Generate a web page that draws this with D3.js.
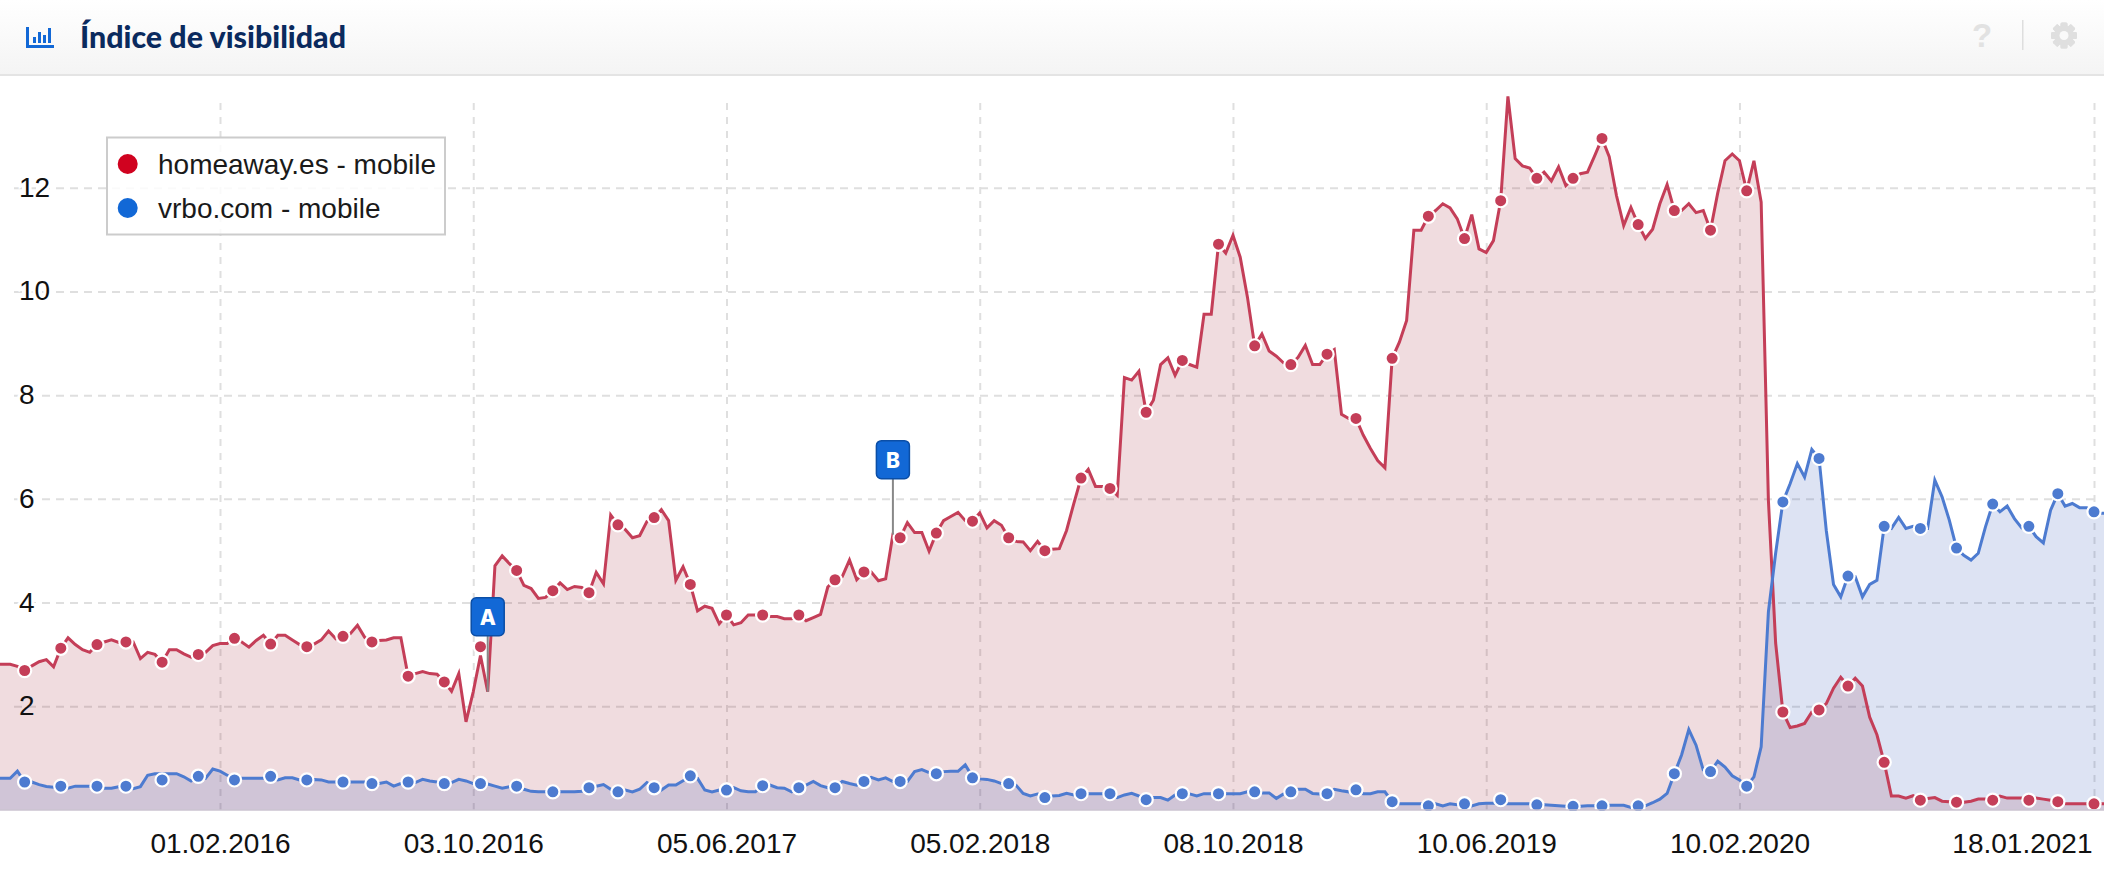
<!DOCTYPE html>
<html><head><meta charset="utf-8">
<script src="https://cdnjs.cloudflare.com/ajax/libs/d3/7.8.5/d3.min.js"></script>
<style>html,body{margin:0;padding:0;background:#fff;overflow:hidden}svg{display:block}</style>
</head><body><div id="c"></div>
<script>
const seriesNames = ["homeaway.es - mobile", "vrbo.com - mobile"];
const titleText = "Índice de visibilidad";
const firstWeek = "2015-06-29";
const xTickDates = ["2016-02-01","2016-10-03","2017-06-05","2018-02-05","2018-10-08","2019-06-10","2020-02-10","2021-01-18"];
const xTickLabels = ["01.02.2016","03.10.2016","05.06.2017","05.02.2018","08.10.2018","10.06.2019","10.02.2020","18.01.2021"];
const yTicks = [2,4,6,8,10,12];
const homeaway = [
2.81,2.81,2.81,2.77,2.69,2.78,2.86,2.90,2.76,3.12,
3.32,3.19,3.09,3.04,3.19,3.24,3.28,3.23,3.24,3.24,
2.92,3.04,3.0,2.85,3.09,3.09,3.01,2.95,3.0,3.04,
3.17,3.21,3.21,3.31,3.24,3.14,3.27,3.37,3.2,3.37,
3.37,3.28,3.19,3.15,3.2,3.28,3.45,3.3,3.35,3.4,
3.56,3.33,3.24,3.27,3.28,3.32,3.32,2.58,2.63,2.67,
2.63,2.62,2.47,2.29,2.63,1.70,2.28,2.98,2.28,4.71,
4.9,4.75,4.62,4.33,4.27,4.08,4.1,4.23,4.38,4.25,
4.31,4.29,4.19,4.58,4.36,5.69,5.5,5.41,5.25,5.29,
5.56,5.64,5.79,5.58,4.43,4.69,4.35,3.84,3.93,3.89,
3.59,3.76,3.57,3.61,3.76,3.76,3.76,3.73,3.73,3.69,
3.69,3.76,3.65,3.71,3.77,4.3,4.44,4.5,4.82,4.44,
4.59,4.59,4.42,4.46,5.31,5.25,5.54,5.35,5.35,4.99,
5.34,5.58,5.66,5.74,5.58,5.57,5.73,5.44,5.58,5.49,
5.25,5.18,5.17,5.0,5.18,5.0,5.03,5.04,5.39,5.91,
6.40,6.57,6.24,6.24,6.2,6.07,8.34,8.29,8.46,7.67,
7.9,8.59,8.72,8.38,8.67,8.59,8.54,9.56,9.56,10.91,
10.74,11.08,10.66,9.89,8.95,9.18,8.85,8.75,8.62,8.59,
8.73,8.96,8.59,8.59,8.79,8.88,7.63,7.55,7.55,7.23,
6.97,6.74,6.6,8.71,9.02,9.44,11.18,11.18,11.45,11.56,
11.69,11.61,11.4,11.02,11.48,10.82,10.75,10.98,11.75,13.76,
12.56,12.42,12.38,12.18,12.3,12.13,12.4,12.04,12.18,12.27,
12.3,12.62,12.95,12.6,11.85,11.27,11.62,11.29,11.02,11.2,
11.69,12.06,11.56,11.56,11.69,11.52,11.56,11.18,11.9,12.52,
12.65,12.52,11.94,12.52,11.72,5.97,3.22,1.89,1.59,1.62,
1.67,1.89,1.93,2.05,2.35,2.56,2.39,2.54,2.39,1.79,
1.45,.92,.27,.27,.23,.275,.19,.22,.24,.17,
.16,.15,.15,.17,.21,.21,.19,.27,.23,.23,
.23,.19,.23,.21,.19,.16,.12,.12,.12,.12,
.12,.12,.12];
const vrbo = [
.61,.61,.61,.75,.54,.54,.49,.455,.44,.46,
.42,.46,.46,.46,.46,.42,.42,.45,.46,.41,
.45,.67,.70,.70,.70,.70,.64,.56,.64,.61,
.79,.75,.67,.61,.61,.61,.61,.61,.61,.58,
.62,.62,.58,.58,.59,.58,.54,.54,.54,.54,
.54,.54,.54,.51,.54,.46,.51,.54,.53,.59,
.56,.54,.53,.53,.59,.56,.51,.51,.5,.46,
.42,.45,.45,.40,.36,.35,.35,.35,.35,.35,
.35,.36,.45,.46,.49,.40,.37,.385,.35,.4,
.53,.45,.385,.48,.48,.565,.64,.61,.385,.35,
.385,.385,.43,.37,.35,.35,.48,.48,.43,.42,
.35,.44,.48,.55,.47,.43,.43,.55,.51,.48,
.56,.63,.58,.62,.55,.55,.55,.74,.78,.72,
.70,.74,.745,.745,.87,.64,.60,.59,.56,.51,
.51,.48,.32,.27,.31,.28,.27,.28,.32,.29,
.315,.315,.315,.315,.315,.24,.29,.32,.27,.24,
.24,.24,.19,.29,.315,.31,.27,.315,.315,.315,
.315,.315,.315,.35,.35,.33,.33,.225,.31,.35,
.40,.40,.32,.31,.315,.40,.37,.35,.39,.315,
.315,.35,.35,.16,.12,.12,.12,.12,.11,.12,
.08,.12,.1,.12,.08,.12,.13,.13,.13,.12,
.12,.12,.12,.11,.1,.09,.08,.07,.07,.07,
.08,.08,.08,.09,.09,.09,.05,.08,.08,.14,
.21,.32,.70,1.06,1.55,1.25,.77,.74,.94,.83,
.66,.58,.46,.64,1.22,3.82,4.95,5.94,6.29,6.68,
6.42,6.95,6.78,5.39,4.35,4.11,4.51,4.5,4.11,4.35,
4.43,5.47,5.43,5.64,5.43,5.47,5.43,5.43,6.36,6.04,
5.59,5.05,4.91,4.82,4.95,5.46,5.9,5.75,5.86,5.62,
5.44,5.47,5.27,5.15,5.78,6.1,5.86,5.91,5.83,5.83,
5.75,5.72,5.72];
const markerWeeks = [4,9,14,18,23,28,33,38,43,48,52,57,62,67,72,77,82,86,91,96,101,106,111,116,120,125,130,135,140,145,150,154,159,164,169,174,179,184,188,193,198,203,208,213,218,222,227,232,237,242,247,252,256,261,266,271,276,281,285,290];
const homeawayMarkers = [2.69,3.12,3.19,3.24,2.85,3.0,3.31,3.2,3.15,3.35,3.24,2.58,2.47,3.15,4.62,4.23,4.19,5.5,5.64,4.35,3.76,3.76,3.76,4.44,4.59,5.25,5.34,5.57,5.25,5.0,6.40,6.2,7.67,8.67,10.91,8.95,8.59,8.79,7.55,8.71,11.45,11.02,11.75,12.18,12.18,12.95,11.29,11.56,11.18,11.94,1.89,1.93,2.39,.92,.19,.15,.19,.19,.16,.12];
const vrboMarkers = [.54,.46,.46,.46,.58,.65,.58,.65,.58,.54,.51,.54,.51,.51,.46,.35,.43,.35,.43,.66,.385,.47,.43,.43,.55,.55,.70,.62,.51,.24,.315,.315,.2,.315,.315,.35,.35,.315,.39,.16,.08,.12,.2,.1,.07,.08,.08,.70,.74,.46,5.94,6.78,4.51,5.47,5.43,5.05,5.9,5.47,6.1,5.75];
const flagLabels = ["A","B"];
const flagWeeks = [68,124];

const W = 2104, H = 876, FONT = "'Liberation Sans', Arial, sans-serif";
const NAVY = "#0a2a5e", BLUE = "#1268d6";
const parseD = d3.utcParse("%Y-%m-%d");
const t0 = parseD(firstWeek);
const weekDate = i => d3.utcWeek.offset(t0, i);
const x = d3.scaleUtc().domain([parseD("2016-02-01"), parseD("2021-01-18")]).range([220, 2094]);
const y = d3.scaleLinear().domain([0, 12]).range([810, 187.7]);
const px = i => x(weekDate(i));

const svg = d3.select("#c").append("svg").attr("width", W).attr("height", H).attr("viewBox", `0 0 ${W} ${H}`);
const defs = svg.append("defs");
const g = defs.append("linearGradient").attr("id","hdr").attr("x1",0).attr("x2",0).attr("y1",0).attr("y2",1);
g.append("stop").attr("offset",0).attr("stop-color","#ffffff");
g.append("stop").attr("offset",1).attr("stop-color","#f4f4f4");
defs.append("clipPath").attr("id","plot").append("rect").attr("x",0).attr("y",76).attr("width",W).attr("height",735);

// horizontal grid
const yGrid = svg.append("g").attr("transform","translate(2094,0)")
  .call(d3.axisLeft(y).tickValues(yTicks).tickSize(2084).tickFormat(""));
yGrid.select(".domain").remove();
// vertical grid
const xGrid = svg.append("g").attr("transform","translate(0,810)")
  .call(d3.axisBottom(x).tickValues(xTickDates.map(parseD)).tickSize(-714).tickFormat(""));
xGrid.select(".domain").remove();
svg.selectAll("g line").attr("stroke","#dfdfdf").attr("stroke-width",2);
yGrid.selectAll("line").attr("stroke-dasharray","8 6");
xGrid.selectAll("line").attr("stroke-dasharray","7 7");

const plot = svg.append("g").attr("clip-path","url(#plot)");
const series = [
 {vals:homeaway, marks:homeawayMarkers, line:"#c43e58", fill:"rgb(155,22,42)"},
 {vals:vrbo, marks:vrboMarkers, line:"#4d7bd0", fill:"rgb(28,68,175)"}
];
const area = d3.area().x((d,i)=>px(i)).y0(y(0)).y1(d=>y(d));
const line = d3.line().x((d,i)=>px(i)).y(d=>y(d));
series.forEach(s=>plot.append("path").attr("d",area(s.vals)).attr("fill",s.fill).attr("fill-opacity",0.15));
series.forEach(s=>plot.append("path").attr("d",line(s.vals)).attr("fill","none").attr("stroke",s.line).attr("stroke-width",3).attr("stroke-linejoin","miter"));
series.forEach(s=>{
  plot.append("g").selectAll("circle").data(s.marks).join("circle")
    .attr("cx",(d,i)=>px(markerWeeks[i])).attr("cy",d=>y(d)).attr("r",6.6)
    .attr("fill",s.line).attr("stroke","#fff").attr("stroke-width",2.2);
});
// baseline
svg.append("line").attr("x1",0).attr("x2",W).attr("y1",y(0)).attr("y2",y(0)).attr("stroke","#cbc3d1").attr("stroke-width",1.5);

// axis labels
const yLab = svg.append("g").attr("transform","translate(19,0)")
  .call(d3.axisRight(y).tickValues(yTicks).tickSize(0).tickPadding(0).tickFormat(d3.format("d")));
yLab.select(".domain").remove();
yLab.selectAll("text").attr("font-family",FONT).attr("font-size",28).attr("fill","#111").attr("text-anchor","start")
  .attr("x",0).attr("dy",null).attr("y",8.5)
  .attr("stroke",d=>d>=4?"#fff":"none").attr("stroke-width",6).attr("paint-order","stroke");
const xLab = svg.append("g").attr("transform","translate(0,810)")
  .call(d3.axisBottom(x).tickValues(xTickDates.map(parseD)).tickSize(0).tickPadding(0)
    .tickFormat((d,i)=>xTickLabels[i]));
xLab.select(".domain").remove();
xLab.selectAll("text").attr("font-family",FONT).attr("font-size",28).attr("fill","#111").attr("dy",null).attr("y",43);
xLab.selectAll("text").filter((d,i)=>i===xTickLabels.length-1).attr("text-anchor","end").attr("dx",-2);

// flags
const flags = svg.append("g").selectAll("g").data(flagLabels).join("g")
  .attr("transform",(d,i)=>`translate(${px(flagWeeks[i])},${y(homeaway[flagWeeks[i]])})`);
flags.append("line").attr("y1",0).attr("y2",-57).attr("stroke","#888").attr("stroke-width",2);
flags.append("rect").attr("x",-16.5).attr("y",-94).attr("width",33).attr("height",38).attr("rx",5)
  .attr("fill",BLUE).attr("stroke","#0b4ea6").attr("stroke-width",1.5);
flags.append("text").attr("y",-67).attr("text-anchor","middle").attr("fill","#fff")
  .attr("font-family","Inter, 'Liberation Sans', sans-serif").attr("font-weight",800).attr("font-size",21).text(d=>d);

// legend
const leg = svg.append("g");
leg.append("rect").attr("x",107).attr("y",137.5).attr("width",338).attr("height",97)
  .attr("fill","#fff").attr("fill-opacity",.85).attr("stroke","#cccccc").attr("stroke-width",2);
["#d0021f",BLUE].forEach((c,i)=>{
  leg.append("circle").attr("cx",127.7).attr("cy",164+44*i).attr("r",10).attr("fill",c);
  leg.append("text").attr("x",158).attr("y",174+44*i).attr("font-family",FONT).attr("font-size",28).attr("fill","#1a1a1a").text(seriesNames[i]);
});

// header
const hdr = svg.append("g");
hdr.append("rect").attr("width",W).attr("height",75).attr("fill","url(#hdr)");
hdr.append("rect").attr("y",74).attr("width",W).attr("height",2).attr("fill","#e4e4e4");
hdr.append("text").attr("x",80).attr("y",48).attr("font-family","Lato, Inter, sans-serif").attr("font-weight",900)
  .attr("font-size",30).attr("fill",NAVY).attr("textLength",266).attr("lengthAdjust","spacingAndGlyphs").text(titleText);
// chart icon
const ic = hdr.append("g").attr("fill",BLUE);
ic.append("rect").attr("x",26).attr("y",27).attr("width",3).attr("height",21);
ic.append("rect").attr("x",26).attr("y",45).attr("width",28).attr("height",3);
[[33,37,6],[38,32,11],[43,35,8],[48,28,15]].forEach(b=>ic.append("rect").attr("x",b[0]).attr("y",b[1]).attr("width",3).attr("height",b[2]));
// help / divider / gear
hdr.append("text").attr("x",1982).attr("y",47).attr("text-anchor","middle").attr("font-family",FONT).attr("font-weight",700).attr("font-size",33).attr("fill","#e2e2e2").text("?");
hdr.append("rect").attr("x",2022).attr("y",20).attr("width",1.5).attr("height",30).attr("fill","#dedede");
const gear = hdr.append("g").attr("transform","translate(2064,35.5)");
d3.range(8).forEach(k=>gear.append("rect").attr("x",-3.5).attr("y",-13).attr("width",7).attr("height",26).attr("rx",1.5).attr("fill","#dfdfdf").attr("transform",`rotate(${k*45})`));
gear.append("circle").attr("r",10).attr("fill","#dfdfdf");
gear.append("circle").attr("r",4.5).attr("fill","#f9f9f9");
</script></body></html>
